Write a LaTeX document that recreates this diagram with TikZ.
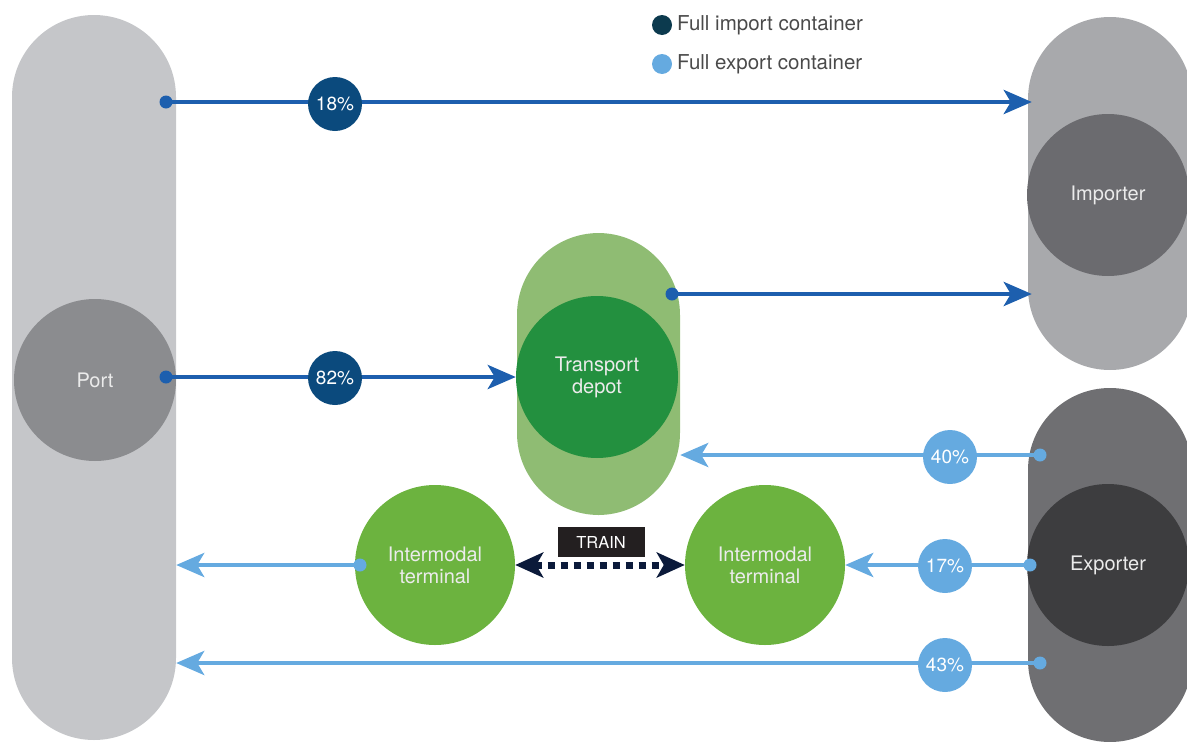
\documentclass[tikz,border=0pt]{standalone}
\usepackage{fontspec}
\setmainfont{TeX Gyre Heros}
\usetikzlibrary{arrows.meta}

\definecolor{portpill}{HTML}{C5C6C9}
\definecolor{portcirc}{HTML}{8B8C8F}
\definecolor{imppill}{HTML}{A8A9AC}
\definecolor{impcirc}{HTML}{6B6B6F}
\definecolor{exppill}{HTML}{6F6F72}
\definecolor{expcirc}{HTML}{3D3D3F}
\definecolor{depotpill}{HTML}{8FBC73}
\definecolor{depotcirc}{HTML}{23903F}
\definecolor{terminal}{HTML}{6CB33F}
\definecolor{importline}{HTML}{1D5FAE}
\definecolor{importbadge}{HTML}{0B4A7D}
\definecolor{exportline}{HTML}{65AAE0}
\definecolor{trainline}{HTML}{0B1A3A}
\definecolor{trainbox}{HTML}{231F20}
\definecolor{legenddark}{HTML}{0C3A4E}
\definecolor{legendtext}{HTML}{4A4A4A}

\tikzset{
  pillshape/.style={rectangle, minimum width=164pt, rounded corners=82pt, inner sep=0pt},
  hub/.style={circle, minimum size=162pt, inner sep=0pt, text=white!92!black,
    align=center, font=\fontsize{20}{22}\selectfont},
  badge/.style={circle, minimum size=54pt, inner sep=0pt, text=white,
    font=\fontsize{19}{19}\selectfont},
  impbadge/.style={badge, fill=importbadge},
  expbadge/.style={badge, fill=exportline},
  impdot/.style={circle, fill=importline, minimum size=13pt, inner sep=0pt},
  expdot/.style={circle, fill=exportline, minimum size=13pt, inner sep=0pt},
  impflow/.style={draw=importline, line width=4.5pt,
    -{Stealth[length=28pt, width=24pt, inset=7pt]}},
  expflow/.style={draw=exportline, line width=4.5pt,
    -{Stealth[length=28pt, width=24pt, inset=7pt]}},
  trainflow/.style={draw=trainline, line width=7pt, dash pattern=on 7pt off 6pt,
    {Stealth[length=28pt, width=25pt, inset=7pt]}-{Stealth[length=28pt, width=25pt, inset=7pt]}},
  legendtxt/.style={anchor=west, text=legendtext, inner sep=0pt,
    font=\fontsize{20.5}{22}\selectfont},
}

\begin{document}
\begin{tikzpicture}[x=1pt, y=-1pt]
\useasboundingbox (0,0) rectangle (1187,742);

\begin{scope}
\clip (0,0) rectangle (1187,742);
% large stadium shapes
\node[pillshape, fill=portpill, minimum height=725pt] (port) at (94,377.5) {};
\node[pillshape, fill=imppill, minimum height=353pt] (imp) at (1110,193.5) {};
\node[pillshape, fill=exppill, minimum height=354pt] (exp) at (1110,565) {};
\node[pillshape, fill=depotpill, minimum width=163pt, minimum height=282pt] (depot) at (598.5,374) {};

% hubs
\node[hub, fill=portcirc] (portc) at (95,380) {Port};
\node[hub, fill=impcirc] (impc) at (1108,195) {Importer};
\node[hub, fill=expcirc] (expc) at (1108,565) {Exporter};
\node[hub, fill=depotcirc] (depotc) at (597,377) {Transport\\depot};
\node[hub, fill=terminal, minimum size=160pt] (imL) at (435,565) {Intermodal\\terminal};
\node[hub, fill=terminal, minimum size=160pt] (imR) at (765,565) {Intermodal\\terminal};
\end{scope}

% start points of the flows
\node[impdot] (d18) at (166,102) {};
\node[impdot] (d82) at (166,377) {};
\node[impdot] (dDep) at (672,294) {};
\node[expdot] (d40) at (1040,455) {};
\node[expdot] (d17) at (1030,565) {};
\node[expdot] (d43) at (1040,663) {};
\node[expdot] (dTerm) at (360,565) {};

% import flows (tips reach a little into the importer shape)
\draw[impflow, shorten >=-4pt] (d18.center) -- (imp.west |- d18);
\draw[impflow] (d82.center) -- (depotc.west);
\draw[impflow, shorten >=-4pt] (dDep.center) -- (imp.west |- dDep);

% export flows
\draw[expflow] (d40.center) -- (depot.east |- d40);
\draw[expflow] (d17.center) -- (imR.east);
\draw[expflow] (d43.center) -- (port.east |- d43);
\draw[expflow] (dTerm.center) -- (port.east |- dTerm);

% rail link between the terminals
\draw[trainflow] (imL.east) -- (imR.west);
\node[fill=trainbox, text=white, minimum width=87pt, minimum height=30pt, inner sep=0pt,
  font=\fontsize{16.5}{17}\selectfont] (train) at (601,542) {TRAIN};

% share badges
\node[impbadge] (b18) at (335,104) {18\%};
\node[impbadge] (b82) at (335,378) {82\%};
\node[expbadge] (b40) at (950,457) {40\%};
\node[expbadge] (b17) at (945,566) {17\%};
\node[expbadge] (b43) at (945,665) {43\%};

% legend
\node[circle, fill=legenddark, minimum size=20pt, inner sep=0pt] (ldark) at (662,25) {};
\node[legendtxt] (limp) at (677,25) {Full import container};
\node[circle, fill=exportline, minimum size=20pt, inner sep=0pt] (llight) at (662,64) {};
\node[legendtxt] (lexp) at (677,64) {Full export container};
\end{tikzpicture}
\end{document}
